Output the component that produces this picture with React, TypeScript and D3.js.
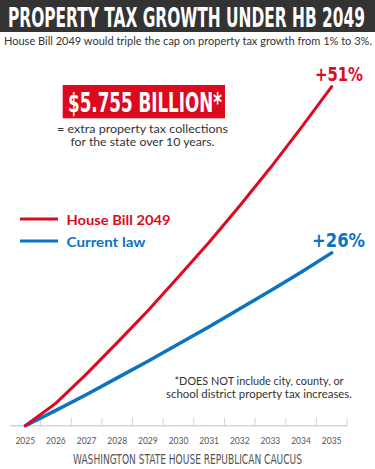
import React from "react";
import * as d3 from "d3";

const years = ["2025", "2026", "2027", "2028", "2029", "2030", "2031", "2032", "2033", "2034", "2035"];
const houseBill = [0, 3.4, 7.8, 12.5, 17.3, 22.4, 27.6, 33.1, 38.8, 44.8, 51];
const currentLaw = [0, 2.3, 4.7, 7.2, 9.7, 12.3, 14.9, 17.6, 20.3, 23.1, 26];

const RED = "#dc0a1e";
const BLUE = "#0b73c1";
const COND = "'Liberation Sans Narrow', 'DejaVu Sans Condensed', 'Roboto', sans-serif";
const BODY = "'Lato', 'Noto Sans', sans-serif";

export default function App() {
  const W = 375, H = 469;
  const x = d3.scaleBand<string>().domain(years).range([10, 347]);
  const cx = (y: string) => (x(y) as number) + x.bandwidth() / 2;
  const y = d3.scaleLinear().domain([0, 51]).range([425.7, 86.7]);
  const line = d3.line<number>().x((_, i) => cx(years[i])).y((d) => y(d));
  const baseY = y(0);
  const last = years.length - 1;
  const redLabel = `+${houseBill[last]}%`;
  const blueLabel = `+${currentLaw[last]}%`;

  return (
    <svg width={W} height={H} style={{ position: "absolute", left: 0, top: 0, background: "#fff" }}>
      <rect x={0} y={0} width={W} height={32} fill="#333333" />
      <text x={8} y={27} fill="#fff" fontFamily={COND} fontWeight={700} fontSize={26}
        textLength={357} lengthAdjust="spacingAndGlyphs">PROPERTY TAX GROWTH UNDER HB 2049</text>
      <text x={4} y={45} fill="#333" fontFamily={BODY} fontSize={11}
        textLength={368} lengthAdjust="spacingAndGlyphs">House Bill 2049 would triple the cap on property tax growth from 1% to 3%.</text>

      <rect x={62.7} y={85} width={162.3} height={33.3} fill={RED} />
      <text x={68} y={111.7} fill="#fff" fontFamily={COND} fontWeight={700} fontSize={27}
        textLength={154} lengthAdjust="spacingAndGlyphs">$5.755 BILLION*</text>
      <text x={142.5} y={133} textAnchor="middle" fill="#333" fontFamily={BODY} fontSize={11.5}
        textLength={171} lengthAdjust="spacingAndGlyphs">= extra property tax collections</text>
      <text x={142.5} y={146} textAnchor="middle" fill="#333" fontFamily={BODY} fontSize={11.5}
        textLength={144} lengthAdjust="spacingAndGlyphs">for the state over 10 years.</text>

      <line x1={20} x2={58} y1={219} y2={219} stroke={RED} strokeWidth={3} />
      <text x={66.5} y={224.5} fill={RED} fontFamily={BODY} fontWeight={700} fontSize={14}
        textLength={104} lengthAdjust="spacingAndGlyphs">House Bill 2049</text>
      <line x1={20} x2={58} y1={241} y2={241} stroke={BLUE} strokeWidth={3} />
      <text x={66.5} y={246.5} fill={BLUE} fontFamily={BODY} fontWeight={700} fontSize={14}
        textLength={79} lengthAdjust="spacingAndGlyphs">Current law</text>

      <text x={259} y={385} textAnchor="middle" fill="#333" fontFamily={BODY} fontSize={10.5}
        textLength={169} lengthAdjust="spacingAndGlyphs">*DOES NOT include city, county, or</text>
      <text x={259} y={397.5} textAnchor="middle" fill="#333" fontFamily={BODY} fontSize={10.5}
        textLength={186} lengthAdjust="spacingAndGlyphs">school district property tax increases.</text>

      <line x1={10} x2={347} y1={baseY} y2={baseY} stroke="#d4d4d4" strokeWidth={1.5} />
      {years.map((yr, i) => {
        const tx = (x(yr) as number) + x.bandwidth();
        return <line key={"t" + i} x1={tx} x2={tx} y1={baseY} y2={baseY - 8} stroke="#d4d4d4" strokeWidth={1} />;
      })}
      {years.map((yr) => (
        <text key={yr} x={cx(yr)} y={444} textAnchor="middle" fill="#555" fontFamily={BODY} fontSize={8.5}>{yr}</text>
      ))}

      <path d={line(currentLaw) as string} fill="none" stroke={BLUE} strokeWidth={3.5} strokeLinecap="round" />
      <path d={line(houseBill) as string} fill="none" stroke={RED} strokeWidth={3} strokeLinecap="round" />

      <text x={315} y={80.7} fill={RED} fontFamily={COND} fontWeight={700} fontSize={20}
        textLength={48} lengthAdjust="spacingAndGlyphs">{redLabel}</text>
      <text x={312} y={247} fill={BLUE} fontFamily={COND} fontWeight={700} fontSize={20}
        textLength={53} lengthAdjust="spacingAndGlyphs">{blueLabel}</text>

      <text x={187.5} y={463.5} textAnchor="middle" fill="#555" fontFamily={COND} fontSize={14}
        textLength={229} lengthAdjust="spacingAndGlyphs">WASHINGTON STATE HOUSE REPUBLICAN CAUCUS</text>
    </svg>
  );
}
